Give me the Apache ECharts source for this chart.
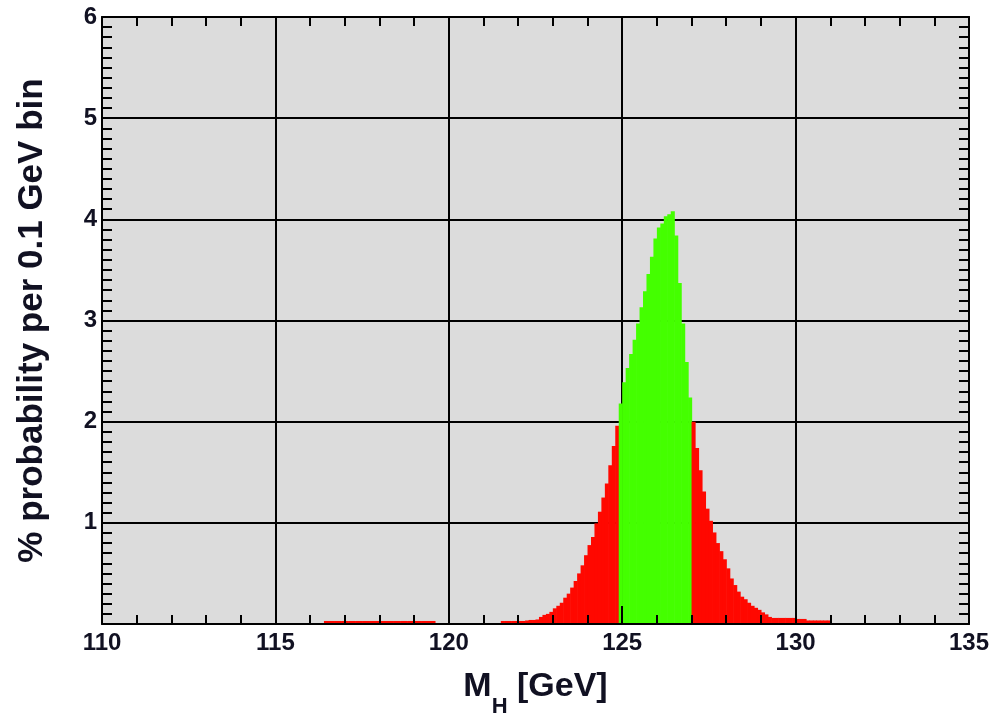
<!DOCTYPE html>
<html>
<head>
<meta charset="utf-8">
<title>M_H probability</title>
<script src="https://cdn.jsdelivr.net/npm/echarts@6/dist/echarts.min.js"></script>
<style>
  html, body { margin: 0; padding: 0; background: #fff; }
  #chart { width: 993px; height: 716px; }
</style>
</head>
<body>
<div id="chart"></div>
<script>
"use strict"
// bin width in GeV
const binWidth = 0.1;

// x axis ticks
const xTicks = [110, 115, 120, 125, 130, 135];
const yTicks = [1, 2, 3, 4, 5, 6];

// low mass tail, 116.4 .. 119.5
const lowTailStart = 116.4;
const lowTail = [
    0.03, 0.03, 0.03, 0.03, 0.03, 0.03, 0.03, 0.03, 0.03, 0.03,
    0.03, 0.03, 0.03, 0.03, 0.03, 0.03, 0.03, 0.03, 0.03, 0.03,
    0.03, 0.03, 0.03, 0.03, 0.03, 0.03, 0.03, 0.03, 0.03, 0.03,
    0.03, 0.03
];

// red part left of the peak, 121.5 .. 124.8
const redLeftStart = 121.5;
const redLeft = [
    0.03, 0.03, 0.03, 0.03, 0.03, 0.03, 0.03, 0.035, 0.04, 0.04,
    0.045, 0.07, 0.09, 0.10, 0.12, 0.155, 0.18, 0.21, 0.26, 0.30,
    0.36, 0.425, 0.50, 0.58, 0.68, 0.78, 0.86, 0.995, 1.11, 1.25,
    1.39, 1.57, 1.76, 1.96
];

// green band, 124.9 .. 126.9
const greenStart = 124.9;
const green = [
    2.18, 2.39, 2.53, 2.67, 2.81, 2.97, 3.13, 3.29, 3.46, 3.63,
    3.81, 3.92, 3.96, 4.03, 4.05, 4.08, 3.84, 3.37, 2.97, 2.59,
    2.24
];

// red part right of the peak, 127.0 .. 130.9
const redRightStart = 127.0;
const redRight = [
    2.00, 1.74, 1.52, 1.31, 1.14, 1.02, 0.905, 0.80, 0.72, 0.64,
    0.55, 0.45, 0.385, 0.32, 0.27, 0.245, 0.21, 0.18, 0.16, 0.14,
    0.115, 0.095, 0.07, 0.06, 0.06, 0.06, 0.06, 0.06, 0.06, 0.06,
    0.05, 0.05, 0.05, 0.035, 0.035, 0.035, 0.035, 0.035, 0.035, 0.035
];

function toBins(start, values) {
    var out = [];
    for (var i = 0; i < values.length; i++) {
        out.push([Math.round((start + i * binWidth) * 10) / 10, values[i]]);
    }
    return out;
}

function renderBin(params, api) {
    var x0 = api.value(0);
    var h = api.value(1);
    var p0 = api.coord([x0, h]);
    var p1 = api.coord([x0 + binWidth, 0]);
    return {
        type: 'rect',
        shape: { x: p0[0], y: p0[1], width: p1[0] - p0[0] + 0.6, height: p1[1] - p0[1] },
        style: { fill: api.visual('color') }
    };
}

const fontFam = '"Liberation Sans", Arial, Helvetica, sans-serif';
const labelColor = '#111122';

var chart = echarts.init(document.getElementById('chart'), null, { renderer: 'canvas' });

var baseX = {
    type: 'value', min: 110, max: 135, interval: 5,
    axisLine: { show: true, onZero: false, lineStyle: { color: '#000', width: 2 } },
    axisTick: { show: true, inside: true, length: 18, lineStyle: { color: '#000', width: 2 } },
    minorTick: { show: true, splitNumber: 5, length: 9, lineStyle: { color: '#000', width: 2 } },
    splitLine: { show: false },
    axisLabel: { show: false }
};
var baseY = {
    type: 'value', min: 0, max: 6, interval: 1,
    axisLine: { show: true, onZero: false, lineStyle: { color: '#000', width: 2 } },
    axisTick: { show: true, inside: true, length: 10, lineStyle: { color: '#000', width: 2 } },
    minorTick: { show: true, splitNumber: 10, length: 10, lineStyle: { color: '#000', width: 2 } },
    splitLine: { show: false },
    axisLabel: { show: false }
};

var option = {
    animation: false,
    backgroundColor: '#ffffff',
    grid: {
        left: 102, right: 24, top: 17, bottom: 92,
        containLabel: false,
        outerBoundsMode: 'none',
        show: true, backgroundColor: '#dcdcdc', borderWidth: 0
    },
    xAxis: [
        {
            type: 'value', min: 110, max: 135, interval: 5, position: 'bottom', z: 0,
            axisLine: { show: false },
            axisTick: { show: false },
            splitLine: { show: true, lineStyle: { color: '#000', width: 2 } },
            axisLabel: {
                show: true, margin: 7, fontSize: 24, fontWeight: 'bold',
                fontFamily: fontFam, color: labelColor,
                formatter: function (v) { return xTicks.indexOf(v) >= 0 ? String(v) : ''; }
            },
            name: '{a|M}{sub|H}{a| [GeV]}',
            nameLocation: 'middle',
            nameGap: 46,
            nameTextStyle: {
                rich: {
                    a: { fontSize: 34, fontWeight: 'bold', fontFamily: fontFam, color: labelColor, lineHeight: 40, verticalAlign: 'top' },
                    sub: { fontSize: 22, fontWeight: 'bold', fontFamily: fontFam, color: labelColor, lineHeight: 48, verticalAlign: 'bottom' }
                }
            }
        },
        Object.assign({}, baseX, { position: 'bottom', z: 5 }),
        Object.assign({}, baseX, { position: 'top', z: 5 })
    ],
    yAxis: [
        {
            type: 'value', min: 0, max: 6, interval: 1, position: 'left', z: 0,
            axisLine: { show: false },
            axisTick: { show: false },
            splitLine: { show: true, lineStyle: { color: '#000', width: 2 } },
            axisLabel: {
                show: true, margin: 5, fontSize: 24, fontWeight: 'bold',
                fontFamily: fontFam, color: labelColor,
                formatter: function (v) { return yTicks.indexOf(v) >= 0 ? String(v) : ''; }
            },
            name: '% probability per 0.1 GeV bin',
            nameLocation: 'middle',
            nameGap: 52,
            nameTextStyle: { fontSize: 35, fontWeight: 'bold', fontFamily: fontFam, color: labelColor }
        },
        Object.assign({}, baseY, { position: 'left', z: 5 }),
        Object.assign({}, baseY, { position: 'right', z: 5 })
    ],
    series: [
        { type: 'custom', name: 'tail', renderItem: renderBin, xAxisIndex: 0, yAxisIndex: 0, z: 2,
          itemStyle: { color: '#ff0800' }, data: toBins(lowTailStart, lowTail) },
        { type: 'custom', name: 'left', renderItem: renderBin, xAxisIndex: 0, yAxisIndex: 0, z: 2,
          itemStyle: { color: '#ff0800' }, data: toBins(redLeftStart, redLeft) },
        { type: 'custom', name: 'green', renderItem: renderBin, xAxisIndex: 0, yAxisIndex: 0, z: 2,
          itemStyle: { color: '#44ff00' }, data: toBins(greenStart, green) },
        { type: 'custom', name: 'right', renderItem: renderBin, xAxisIndex: 0, yAxisIndex: 0, z: 2,
          itemStyle: { color: '#ff0800' }, data: toBins(redRightStart, redRight) }
    ]
};

chart.setOption(option);
console.log('chart done');
</script>
</body>
</html>
